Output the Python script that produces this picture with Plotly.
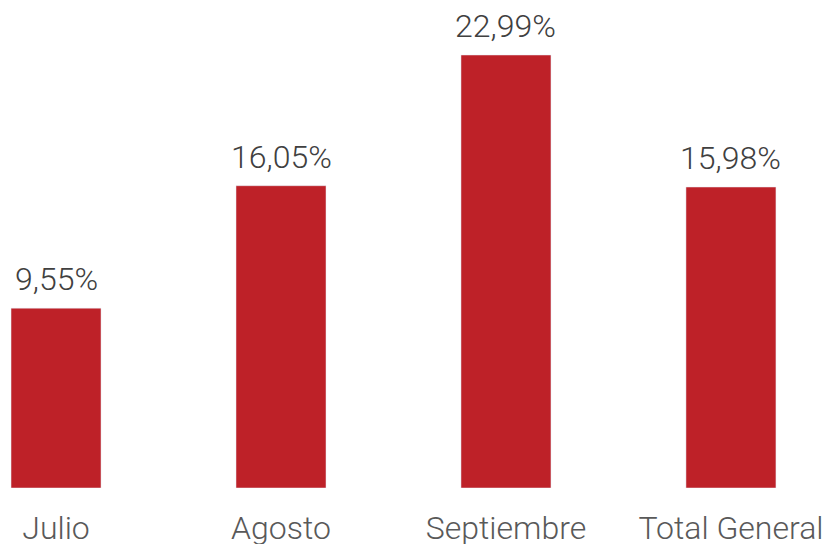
import plotly.graph_objects as go

categories = ["Julio", "Agosto", "Septiembre", "Total General"]
values = [9.55, 16.05, 22.99, 15.98]

BAR = "#BE2128"
TXT = "#404040"
TICK = "#595959"
FONT = "Roboto"

fig = go.Figure(go.Bar(
    x=categories, y=values, marker_color=BAR, width=0.4,
    hoverinfo="skip",
))

for c, v in zip(categories, values):
    fig.add_annotation(
        x=c, y=v, text=f"{v:.2f}%".replace(".", ","),
        showarrow=False, yanchor="bottom", yshift=8,
        font=dict(family=FONT, size=32, color=TXT, weight=300),
    )

fig.update_layout(
    width=825, height=544,
    margin=dict(l=0, r=0, t=0, b=56),
    paper_bgcolor="white", plot_bgcolor="white",
    showlegend=False,
    xaxis=dict(range=[-0.249, 3.418], showgrid=False, showline=False,
               zeroline=False, ticks="", automargin=False,
               tickfont=dict(family=FONT, size=32, color=TICK, weight=300),
               ticklabelstandoff=18),
    yaxis=dict(range=[0, 25.91], visible=False, automargin=False),
)

fig.write_html("out.html", config={"displayModeBar": False},
               post_script="document.body.style.margin='0';")
